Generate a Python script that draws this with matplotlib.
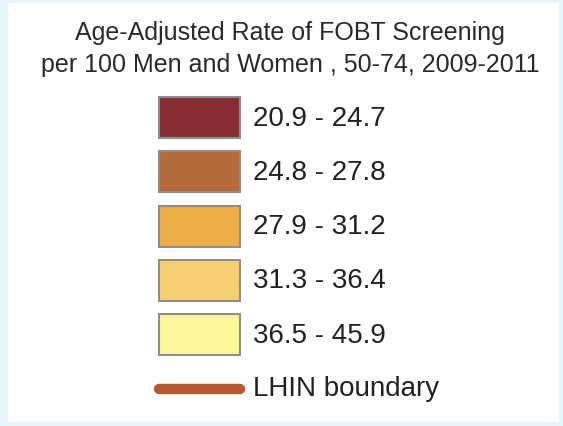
import matplotlib.pyplot as plt
from matplotlib.patches import Rectangle

title = "Age-Adjusted Rate of FOBT Screening\nper 100 Men and Women , 50-74, 2009-2011"
labels = ["20.9 - 24.7", "24.8 - 27.8", "27.9 - 31.2", "31.3 - 36.4", "36.5 - 45.9"]
colors = ["#862d33", "#b46a3a", "#efad48", "#f8cf72", "#fff59c"]
line_label = "LHIN boundary"
line_color = "#b55a30"

plt.rcParams['font.family'] = ['Liberation Sans', 'DejaVu Sans']

fig = plt.figure(figsize=(5.63, 4.26), dpi=100)
fig.patch.set_facecolor("#e6f4fb")
ax = fig.add_axes([0, 0, 1, 1])
ax.set_xlim(0, 563)
ax.set_ylim(426, 0)
ax.axis("off")

# white panel
ax.add_patch(Rectangle((8, 3), 551, 419, facecolor="white", edgecolor="none"))

ax.text(290, 49, title, ha="center", va="center", fontsize=18,
        color="#2a2a2a", linespacing=1.4)

top, step, h = 97, 54.3, 41
for i, (lab, c) in enumerate(zip(labels, colors)):
    y = top + i * step
    ax.add_patch(Rectangle((159, y), 81, h, facecolor=c,
                           edgecolor="#8e8e8e", linewidth=1.5))
    ax.text(253, y + h / 2 + 1, lab, ha="left", va="center",
            fontsize=20, color="#222222")

ly = top + 5 * step + 20
ax.plot([159, 240], [ly, ly], color=line_color, linewidth=7.5,
        solid_capstyle="round")
ax.text(253, ly, line_label, ha="left", va="center", fontsize=20,
        color="#222222")

plt.savefig("out.png", dpi=100, facecolor=fig.get_facecolor())
